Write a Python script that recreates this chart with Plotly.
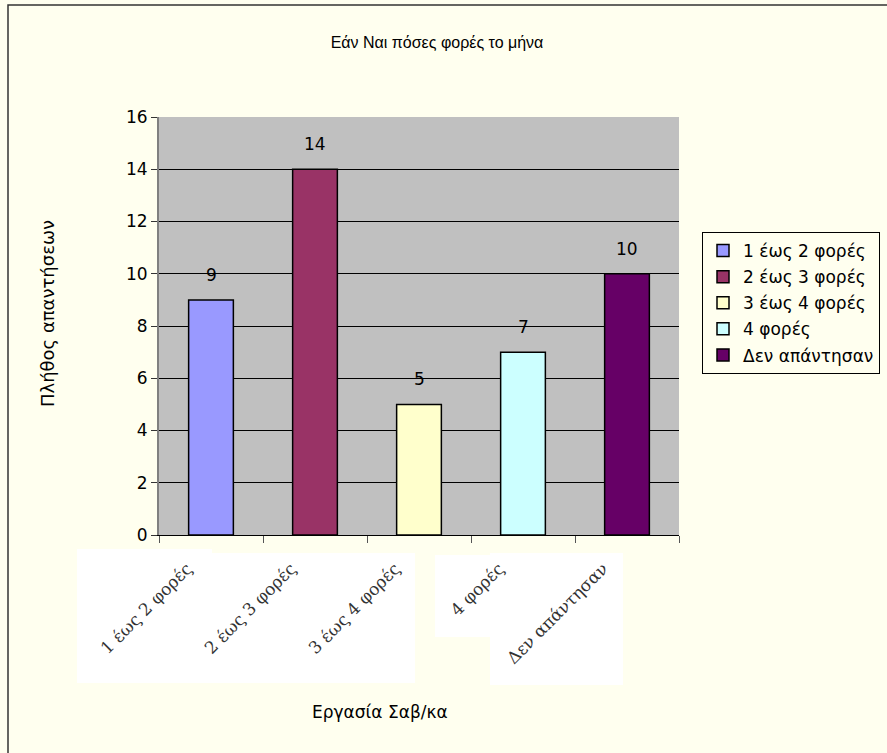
import plotly.graph_objects as go

categories = ["1 έως 2 φορές", "2 έως 3 φορές", "3 έως 4 φορές", "4 φορές", "Δεν απάντησαν"]
values = [9, 14, 5, 7, 10]
colors = ["#9999FF", "#993366", "#FFFFCC", "#CCFFFF", "#660066"]
y_ticks = [0, 2, 4, 6, 8, 10, 12, 14, 16]

W, H = 887, 753
L, R, T, B = 159, 679, 117, 535
pw, ph = R - L, B - T
n = len(categories)

def px_x(p):
    return (p - L) / pw

def px_y(p):
    return (B - p) / ph

# white label-box extents (pixels relative to each category centre: left, right, top, bottom)
label_boxes = [(-134, 1, 549, 683), (-135, -15, 553, 683), (-139, -4, 553, 683),
               (-88, -33, 555, 637), (-137, -4, 553, 685)]

font = "Liberation Sans, Arial, sans-serif"
wfont = "DejaVu Sans, Verdana, sans-serif"
fig = go.Figure()
for i, (c, v, col) in enumerate(zip(categories, values, colors)):
    fig.add_trace(go.Bar(
        x=[c], y=[v], name=c, legendgroup=str(i),
        marker=dict(color=col, line=dict(color="black", width=1.5)),
        width=0.43,
    ))

annotations = []
for c, v in zip(categories, values):
    annotations.append(dict(
        x=c, y=v, xref="x", yref="y", text=str(v), showarrow=False,
        yshift=25, yanchor="middle", font=dict(size=17, color="black", family=wfont),
    ))

shapes = []
for i, (dl, dr, tp, bt) in enumerate(label_boxes):
    shapes.append(dict(
        type="rect", xref="x domain", yref="paper", layer="below",
        x0=(i + 0.5) / n + dl / pw, x1=(i + 0.5) / n + dr / pw,
        y0=px_y(bt), y1=px_y(tp),
        fillcolor="white", line=dict(width=0),
    ))
# outer chart border
shapes.append(dict(
    type="rect", xref="paper", yref="paper", layer="below",
    x0=px_x(8), x1=px_x(900), y0=px_y(770), y1=px_y(5),
    line=dict(color="#333333", width=1.5), fillcolor="rgba(0,0,0,0)",
))

annotations += [
    dict(text="Πλήθος απαντήσεων", xref="paper", yref="paper",
         x=px_x(47), y=px_y(314), textangle=-90, showarrow=False,
         font=dict(size=18, family=wfont), xanchor="center", yanchor="middle"),
    dict(text="Εργασία Σαβ/κα", xref="paper", yref="paper",
         x=px_x(380), y=px_y(712), showarrow=False,
         font=dict(size=17, family=wfont), xanchor="center", yanchor="middle"),
]

fig.update_layout(
    width=W, height=H,
    margin=dict(l=L, r=W - R, t=T, b=H - B, autoexpand=False),
    paper_bgcolor="#FFFFEF", plot_bgcolor="#C0C0C0",
    barmode="overlay", showlegend=True,
    font=dict(family=font, color="black", size=16),
    title=dict(text="Εάν Ναι πόσες φορές το μήνα", x=437 / W, xanchor="center",
               y=1 - 42 / H, yanchor="middle", font=dict(size=16, family=font)),
    xaxis=dict(
        type="category", categoryorder="array", categoryarray=categories,
        tickson="boundaries", ticks="outside", ticklen=7, tickcolor="#555555",
        tickangle=-45, ticklabelshift=-24, ticklabelstandoff=16,
        tickfont=dict(size=17, color="#333333", family="DejaVu Serif, serif"),
        showline=True, linecolor="black", linewidth=1, showgrid=False,
    ),
    yaxis=dict(
        range=[0, 16], tickvals=y_ticks, ticks="outside", ticklen=6, tickcolor="#333333",
        tickfont=dict(size=17, color="black", family=wfont),
        showgrid=True, gridcolor="black", gridwidth=1,
        showline=True, linecolor="#808080", linewidth=2, zeroline=False,
    ),
    legend=dict(
        x=px_x(702), y=px_y(232), xanchor="left", yanchor="top",
        bgcolor="#FFFFEF", bordercolor="black", borderwidth=1,
        font=dict(size=17, family=wfont), tracegroupgap=1,
        itemwidth=30,
    ),
    shapes=shapes,
    annotations=annotations,
)

fig.write_html("out.html")
